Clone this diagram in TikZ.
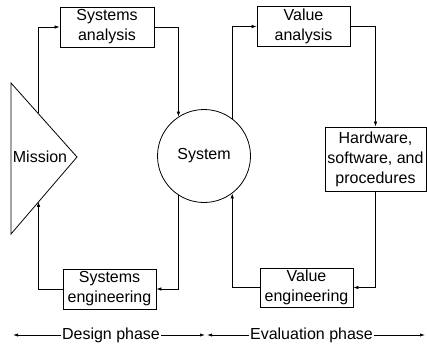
\documentclass[tikz,border=0pt]{standalone}
\usepackage{fontspec}
\setmainfont{Liberation Sans}
\usetikzlibrary{arrows.meta}
\begin{document}
\begin{tikzpicture}[x=1pt,y=-1pt,
  every node/.style={font=\fontsize{16}{20}\selectfont, inner sep=0pt},
  box/.style={draw, line width=0.8pt, align=center, minimum width=93pt, minimum height=40pt},
  conn/.style={line width=0.7pt, -{Latex[length=5pt,width=3.6pt]}},
  phase/.style={line width=0.7pt, -{Latex[length=5pt,width=3.2pt]}}]
\useasboundingbox (0,0) rectangle (427,345);
% boxes
\node[box, minimum width=94pt] (sa) at (107,27) {Systems\\analysis};
\node[box] (va) at (303.5,26.5) {Value\\analysis};
\node[box, minimum width=101pt, minimum height=64pt] (hw) at (375.5,159) {Hardware,\\software, and\\procedures};
\node[box] (se) at (109.5,289) {Systems\\engineering};
\node[box, minimum height=39pt] (ve) at (306.5,287.5) {Value\\engineering};
% system circle
\node[draw, circle, line width=0.8pt, minimum size=93pt] (sys) at (204,156) {System};
% mission triangle
\coordinate (t1) at (11,83);
\coordinate (t2) at (77,157);
\coordinate (t3) at (11,234);
\draw[line width=0.8pt] (t1) -- (t2) -- (t3) -- cycle;
\node (mis) at (40,157) {Mission};
\coordinate (m1) at (38,113.3);
\coordinate (m2) at (38.5,201.8);
% connectors
\draw[conn] (m1) |- (sa.west);
\draw[conn] (sa.east) -| (sys.123);
\draw[conn] (sys.53) |- (va.west);
\draw[conn] (va.east) -| (hw.north);
\draw[conn] (hw.south) |- (ve.east);
\draw[conn] (ve.west) -| (sys.-53);
\draw[conn] (sys.-123) |- (se.east);
\draw[conn] (se.west) -| (m2);
% phases
\node (dp) at (111,335) {Design phase};
\node (ep) at (311.5,335) {Evaluation phase};
\coordinate (d1) at (13,335);
\coordinate (d2) at (205,335);
\coordinate (e1) at (207,335);
\coordinate (e2) at (425,335);
\draw[phase] ([xshift=-1pt]dp.west) -- (d1);
\draw[phase] ([xshift=1pt]dp.east) -- (d2);
\draw[phase] ([xshift=-1pt]ep.west) -- (e1);
\draw[phase] ([xshift=1pt]ep.east) -- (e2);
\end{tikzpicture}
\end{document}
